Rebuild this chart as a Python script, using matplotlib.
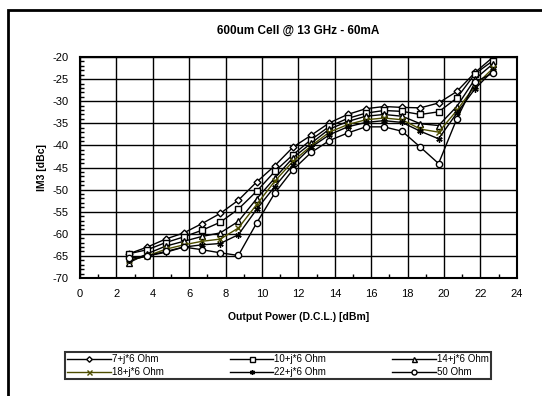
import matplotlib.pyplot as plt
import matplotlib.patches as patches
from matplotlib.ticker import MultipleLocator

plt.rcParams["font.family"] = ["Liberation Sans", "DejaVu Sans"]
plt.rcParams["axes.unicode_minus"] = False

# data
power = [2.7, 3.7, 4.7, 5.7, 6.7, 7.7, 8.7, 9.7, 10.7, 11.7, 12.7,
         13.7, 14.7, 15.7, 16.7, 17.7, 18.7, 19.7, 20.7, 21.7, 22.7]

im3_7 = [-64.5, -63.0, -61.2, -59.8, -57.7, -55.4, -52.4, -48.3, -44.6, -40.4, -37.7,
         -34.9, -33.0, -31.7, -31.2, -31.4, -31.5, -30.4, -27.8, -23.5, -20.0]
im3_10 = [-64.5, -63.6, -62.0, -60.7, -59.2, -57.4, -54.4, -50.4, -45.9, -42.1, -38.7,
          -35.7, -33.9, -32.7, -32.1, -32.3, -33.0, -32.4, -29.3, -23.8, -20.8]
im3_14 = [-66.5, -64.5, -62.8, -61.7, -60.6, -59.8, -57.2, -52.1, -47.4, -42.8, -39.5,
          -36.3, -34.6, -33.4, -33.0, -33.4, -35.1, -35.5, -31.2, -25.0, -21.5]
im3_18 = [-66.0, -65.0, -63.5, -62.5, -61.7, -61.2, -58.7, -53.4, -48.1, -43.6, -40.1,
          -37.0, -35.3, -34.2, -33.8, -34.2, -36.3, -37.0, -32.1, -26.5, -22.5]
im3_22 = [-66.0, -65.0, -64.2, -63.0, -62.5, -62.2, -60.2, -54.5, -49.3, -44.4, -40.4,
          -37.6, -35.8, -34.8, -34.4, -34.8, -36.8, -38.5, -32.7, -27.2, -23.0]
im3_50 = [-65.5, -65.0, -64.0, -63.0, -63.6, -64.3, -64.9, -57.6, -50.8, -45.5, -41.6,
          -38.9, -37.2, -35.8, -35.8, -36.8, -40.4, -44.1, -34.0, -25.7, -23.6]

labels = ["7+j*6 Ohm", "10+j*6 Ohm", "14+j*6 Ohm", "18+j*6 Ohm", "22+j*6 Ohm", "50 Ohm"]
series = [im3_7, im3_10, im3_14, im3_18, im3_22, im3_50]
markers = ["D", "s", "^", "x", (6, 2, 0), "o"]
colors = ["black", "black", "black", "#4d4d00", "black", "black"]

fig = plt.figure(figsize=(5.42, 3.96), dpi=100)
ax = fig.add_axes([0.1476, 0.298, 0.806, 0.558])

lines = []
for vals, lab, mk, col in zip(series, labels, markers, colors):
    filled = mk in ("x", (6, 2, 0))
    ln, = ax.plot(power, vals, color=col, lw=1, marker=mk,
                  markersize=3.5 if mk == "D" else 4.5,
                  markerfacecolor=col if filled else "white",
                  markeredgecolor=col if mk == "x" else "black",
                  markeredgewidth=1, label=lab)
    lines.append(ln)

ax.set_xlim(0, 24)
ax.set_ylim(-70, -20)
ax.xaxis.set_major_locator(MultipleLocator(2))
ax.xaxis.set_minor_locator(MultipleLocator(1))
ax.yaxis.set_major_locator(MultipleLocator(5))
ax.yaxis.set_minor_locator(MultipleLocator(1))
ax.grid(True, which="major", color="black", lw=1)
ax.tick_params(which="major", length=0, labelsize=8, pad=8)
ax.tick_params(which="minor", direction="in", length=3, width=1)
for s in ax.spines.values():
    s.set_linewidth(1.5)

ax.set_title("600um Cell @ 13 GHz - 60mA", fontsize=8.5, fontweight="bold", pad=17)
ax.set_xlabel("Output Power (D.C.L.) [dBm]", fontsize=7.5, fontweight="bold", labelpad=9)
ax.set_ylabel("IM3 [dBc]", fontsize=7.5, fontweight="bold", labelpad=4)

# legend fills rows: 7,10,14 / 18,22,50
order = [0, 3, 1, 4, 2, 5]
leg = fig.legend([lines[i] for i in order], [labels[i] for i in order],
                 loc="lower left", bbox_to_anchor=(65 / 542, 1 - 379 / 396, 426 / 542, 36 / 396),
                 mode="expand", ncol=3, fontsize=7, frameon=True, fancybox=False,
                 handlelength=4.5, handletextpad=0.1, borderpad=0.2, labelspacing=0.3,
                 borderaxespad=0, markerscale=0.8)
leg.get_frame().set_edgecolor("black")
leg.get_frame().set_linewidth(1.5)

# outer chart frame
fig.patches.append(patches.Rectangle((8 / 542, -0.1), 1.0, (396 - 10) / 396 + 0.1,
                                     transform=fig.transFigure, fill=False,
                                     edgecolor="black", lw=2))

fig.savefig("out.png", dpi=100)
